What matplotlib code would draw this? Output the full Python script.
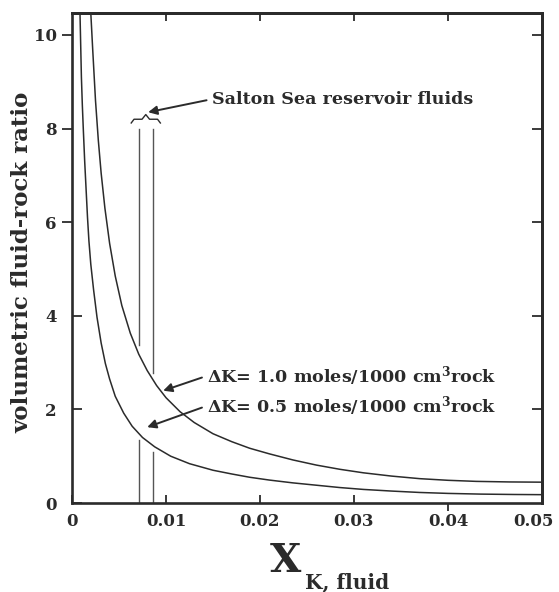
import numpy as np
import matplotlib
matplotlib.use("Agg")
import matplotlib.pyplot as plt
from matplotlib.ticker import FixedLocator, FixedFormatter

plt.rcParams['font.family'] = ['DejaVu Serif']
plt.rcParams['font.weight'] = 'bold'
plt.rcParams['mathtext.fontset'] = 'dejavuserif'

ink = '#2b2b2b'

# upper curve, dK = 1.0 moles/1000 cm3 rock
x_up = [0.0020, 0.0022, 0.0025, 0.0028, 0.0031, 0.0035, 0.0040, 0.0046, 0.0053,
        0.0062, 0.0071, 0.0080, 0.0090, 0.0100, 0.0115, 0.0130, 0.0150, 0.0170,
        0.0189, 0.0210, 0.0235, 0.0260, 0.0285, 0.0310, 0.0340, 0.0370, 0.0400,
        0.0430, 0.0465, 0.0500]
y_up = [10.47, 9.70, 8.60, 7.75, 7.05, 6.30, 5.55, 4.85, 4.22,
        3.63, 3.18, 2.83, 2.51, 2.25, 1.95, 1.72, 1.48, 1.31,
        1.17, 1.05, 0.92, 0.81, 0.72, 0.645, 0.575, 0.52, 0.485,
        0.462, 0.45, 0.445]

# lower curve, dK = 0.5 moles/1000 cm3 rock
x_lo = [0.00085, 0.0010, 0.0011, 0.0012, 0.00135, 0.0015, 0.00165, 0.0018, 0.0020,
        0.0023, 0.00266, 0.0031, 0.00355, 0.0040, 0.0046, 0.0055, 0.0064, 0.0075,
        0.0088, 0.0105, 0.0125, 0.0150, 0.0170, 0.0189, 0.0210, 0.0235, 0.0260,
        0.0285, 0.0310, 0.0340, 0.0370, 0.0400, 0.0435, 0.0470, 0.0500]
y_lo = [10.47, 9.10, 8.50, 8.00, 7.30, 6.70, 6.10, 5.60, 5.10,
        4.55, 3.97, 3.42, 2.98, 2.65, 2.28, 1.92, 1.64, 1.40,
        1.20, 1.00, 0.84, 0.70, 0.62, 0.55, 0.49, 0.43, 0.38,
        0.33, 0.29, 0.255, 0.225, 0.205, 0.19, 0.182, 0.178]

# Salton Sea reservoir fluid compositions (vertical lines)
salton_x = [0.0071, 0.0086]
salton_top = [8.0, 8.0]
salton_mid_hi = [3.37, 2.77]   # line stops at the upper curve
salton_mid_lo = [1.34, 1.09]   # and starts again under the lower curve

x_ticks = [0, 0.01, 0.02, 0.03, 0.04, 0.05]
x_labels = ['0', '0.01', '0.02', '0.03', '0.04', '0.05']
y_ticks = [0, 2, 4, 6, 8, 10]
y_labels = ['0', '2', '4', '6', '8', '10']

fig = plt.figure(figsize=(5.59, 5.92), dpi=100)
ax = fig.add_axes([72/559, 1 - 503/592, 470/559, 490/592])

ax.plot(x_up, y_up, color=ink, lw=1.1)
ax.plot(x_lo, y_lo, color=ink, lw=1.1)

for i in range(len(salton_x)):
    ax.plot([salton_x[i], salton_x[i]], [salton_mid_hi[i], salton_top[i]], color='#555555', lw=1.0)
    ax.plot([salton_x[i], salton_x[i]], [0, salton_mid_lo[i]], color='#555555', lw=1.0)

# little brace over the two lines
bx0, bx1 = salton_x[0] - 0.0008, salton_x[1] + 0.0008
bm = (salton_x[0] + salton_x[1]) / 2
ax.plot([bx0, bx0 + 0.0003, bm - 0.0004, bm, bm + 0.0004, bx1 - 0.0003, bx1],
        [8.12, 8.2, 8.2, 8.3, 8.2, 8.2, 8.12], color=ink, lw=1.0)

ax.set_xlim(0, 0.05)
ax.set_ylim(0, 10.47)

tsize = 12

# bottom: inward ticks, except the 0.04 one that points out
ax.xaxis.set_major_locator(FixedLocator([0, 0.01, 0.02, 0.03, 0.05]))
ax.xaxis.set_major_formatter(FixedFormatter(['0', '0.01', '0.02', '0.03', '']))
ax.xaxis.set_minor_locator(FixedLocator([x_ticks[4]]))
ax.xaxis.set_minor_formatter(FixedFormatter([x_labels[4]]))
ax.tick_params(axis='x', which='major', direction='in', length=6, width=1.3, pad=7,
               labelsize=tsize, colors=ink)
ax.tick_params(axis='x', which='minor', direction='out', length=6, width=1.3, pad=1.5,
               labelsize=tsize, colors=ink)
# last label sits a bit left of its tick so it stays inside the figure
ax.annotate(x_labels[5], xy=(x_ticks[5], 0), xycoords=('data', 'axes fraction'),
            xytext=(-6, -7), textcoords='offset points', ha='center', va='top',
            fontsize=tsize, color=ink)

# left: 2 and 4 point in, 6-10 point out
ax.yaxis.set_major_locator(FixedLocator(y_ticks[:3]))
ax.yaxis.set_major_formatter(FixedFormatter(y_labels[:3]))
ax.yaxis.set_minor_locator(FixedLocator(y_ticks[3:]))
ax.yaxis.set_minor_formatter(FixedFormatter(y_labels[3:]))
ax.tick_params(axis='y', which='major', direction='in', length=7, width=1.3, pad=11,
               labelsize=tsize, colors=ink)
ax.tick_params(axis='y', which='minor', direction='out', length=7, width=1.3, pad=4,
               labelsize=tsize, colors=ink)

for s in ax.spines.values():
    s.set_linewidth(1.9)
    s.set_color(ink)

top = ax.secondary_xaxis('top')
top.set_xticks(x_ticks[1:5])
top.tick_params(direction='in', length=6, width=1.3, labeltop=False, colors=ink)
top.spines['top'].set_linewidth(1.9)
right = ax.secondary_yaxis('right')
right.set_yticks(y_ticks[1:])
right.tick_params(direction='in', length=7, width=1.3, labelright=False, colors=ink)
right.spines['right'].set_linewidth(1.9)

fig.text(22/559, 1 - 262/592, 'volumetric fluid-rock ratio', rotation=90,
         ha='center', va='center', fontsize=16.5, color=ink)
fig.text(270/559, 1 - 572/592, 'X', fontsize=29, color=ink, ha='left', va='baseline')
fig.text(305/559, 1 - 588/592, 'K, fluid', fontsize=14.5, color=ink, ha='left', va='baseline')

arrow = dict(arrowstyle='-|>', color=ink, lw=1.4, mutation_scale=13, shrinkA=2, shrinkB=0,
             relpos=(0, 0.5))
ax.annotate('Salton Sea reservoir fluids', xy=(0.0081, 8.35), xytext=(0.0149, 8.63),
            fontsize=12.6, color=ink, va='center', ha='left', arrowprops=arrow)
ax.annotate(r'ΔK= 1.0 moles/1000 cm$^{\mathbf{3}}$rock', xy=(0.0097, 2.40), xytext=(0.0144, 2.72),
            fontsize=12.6, color=ink, va='center', ha='left', arrowprops=arrow)
ax.annotate(r'ΔK= 0.5 moles/1000 cm$^{\mathbf{3}}$rock', xy=(0.0080, 1.62), xytext=(0.0144, 2.08),
            fontsize=12.6, color=ink, va='center', ha='left', arrowprops=arrow)

fig.savefig('out.png', dpi=100, facecolor='white')
